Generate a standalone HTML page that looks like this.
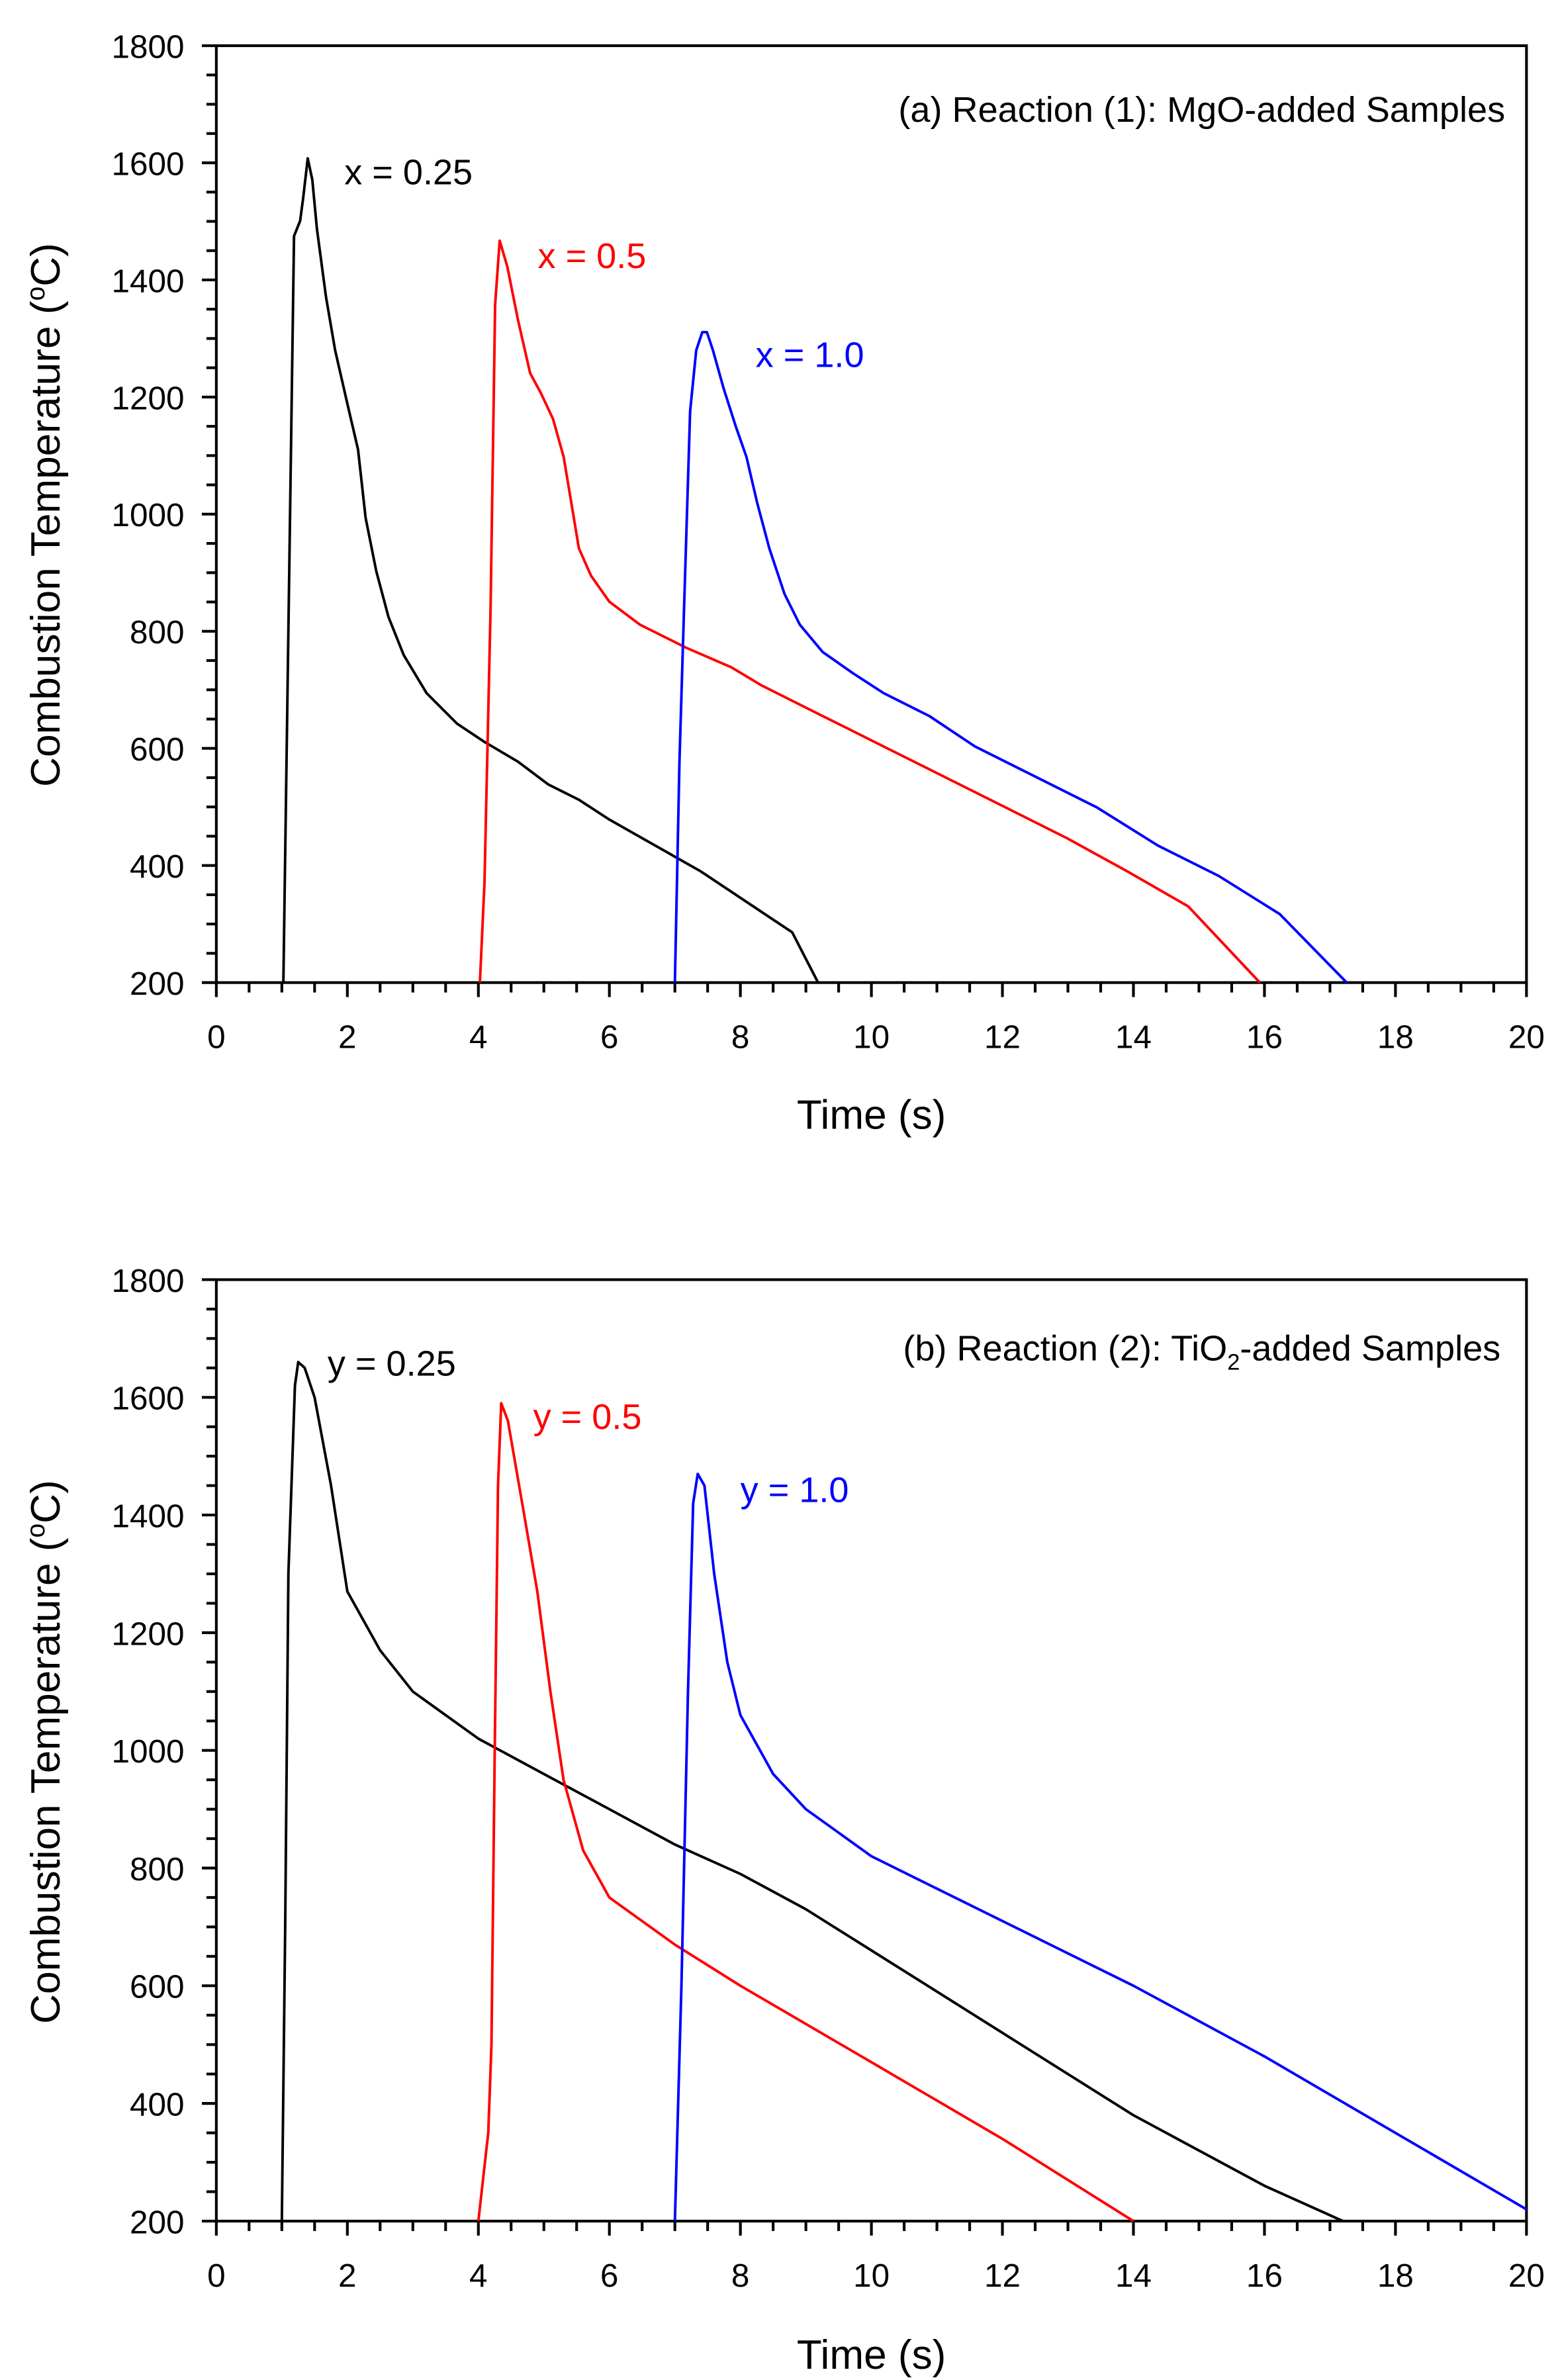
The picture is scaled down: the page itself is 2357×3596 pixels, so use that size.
<!DOCTYPE html>
<html><head><meta charset="utf-8"><style>
html,body{margin:0;padding:0;background:#fff;}
svg{display:block;}
text{font-family:"Liberation Sans",Arial,sans-serif;}
</style></head><body>
<svg id="s" width="2357" height="3596" viewBox="0 0 1024 1562.3" xmlns="http://www.w3.org/2000/svg">
<rect width="1024" height="1562.3" fill="#fff"/>
<g id="axes" stroke="#000" stroke-width="1.8" fill="none"></g>
<g id="lbl" font-size="21.5" fill="#000"></g>
<g fill="none" stroke-width="1.7" stroke-linejoin="round">
<polyline stroke="#000" points="186,645 193,155 197,145 199,130 202,104 205,118 208,150 214,195 220,230 228,265 235,295 240,340 247,375 255,405 265,430 280,455 300,475 318,487 340,500 360,515 380,525 400,538 430,555 460,572 490,592 520,612 537,645"/>
<polyline stroke="#f00" points="315,645 318,580 322,400 325,200 328,158 333,175 340,210 348,245 355,258 363,275 370,300 375,330 380,360 388,378 400,395 420,410 450,425 480,438 500,450 540,470 580,490 620,510 660,530 700,550 740,572 780,595 827,645"/>
<polyline stroke="#00f" points="443,645 446,500 449,400 453,270 457,230 461,218 464,218 468,230 475,255 483,280 490,300 497,330 505,360 515,390 525,410 540,428 560,442 580,455 610,470 640,490 680,510 720,530 760,555 800,575 840,600 884,645"/>
<polyline stroke="#000" points="185,1458 187.2,1264.9 189.3,1033.1 193.6,909.5 195.75,894.1 200,897.9 206.5,917.3 217.3,975.2 228,1044.7 249.5,1083.3 271,1110.4 314,1141.3 357,1164.5 400,1187.6 443,1210.8 486,1230.1 529,1253.3 572,1280.3 658,1334.4 744,1388.5 830,1434.8 881.6,1458"/>
<polyline stroke="#f00" points="314,1458 320.5,1400 322.6,1342 324.75,1149 326.9,975.2 329,921.1 333.4,932.7 344.1,994.5 352.7,1044.7 361.3,1110.4 369.9,1168.3 382.8,1214.7 400,1245.6 443,1276.5 486,1303.5 572,1353.7 658,1404 744,1458"/>
<polyline stroke="#00f" points="443,1458 447.3,1303.5 451.6,1110.4 455,986.8 458,967.5 462.4,975.2 468.8,1033.1 477.4,1091 486,1125.8 507.5,1164.5 529,1187.6 572,1218.5 658,1261 744,1303.5 830,1349.9 916,1400.1 1002,1450.3"/>
</g>
<g font-size="23.5">
<text x="988" y="80" text-anchor="end">(a) Reaction (1): MgO-added Samples</text>
<text x="226" y="121">x = 0.25</text>
<text x="353" y="176" fill="#f00">x = 0.5</text>
<text x="496" y="241" fill="#00f">x = 1.0</text>
<text x="985" y="893" text-anchor="end">(b) Reaction (2): TiO<tspan font-size="15" dy="6">2</tspan><tspan dy="-6">-added Samples</tspan></text>
<text x="215" y="903">y = 0.25</text>
<text x="350" y="938" fill="#f00">y = 0.5</text>
<text x="486" y="986" fill="#00f">y = 1.0</text>
</g>
<g font-size="27">
<text x="572" y="741" text-anchor="middle">Time (s)</text>
<text x="572" y="1555" text-anchor="middle">Time (s)</text>
<text transform="translate(39,338) rotate(-90)" text-anchor="middle">Combustion Temperature (<tspan font-size="17" dy="-10">o</tspan><tspan dy="10">C)</tspan></text>
<text transform="translate(39,1150) rotate(-90)" text-anchor="middle">Combustion Temperature (<tspan font-size="17" dy="-10">o</tspan><tspan dy="10">C)</tspan></text>
</g>
</svg>
<script>
(function(){
var ns="http://www.w3.org/2000/svg";
var ax=document.getElementById("axes"),lb=document.getElementById("lbl");
function ln(x1,y1,x2,y2){var l=document.createElementNS(ns,"line");l.setAttribute("x1",x1);l.setAttribute("y1",y1);l.setAttribute("x2",x2);l.setAttribute("y2",y2);ax.appendChild(l);}
function tx(x,y,s,a){var t=document.createElementNS(ns,"text");t.setAttribute("x",x);t.setAttribute("y",y);t.setAttribute("text-anchor",a);t.textContent=s;lb.appendChild(t);}
var L=142,R=1002;
[[30,645],[840,1458]].forEach(function(p){
 var T=p[0],B=p[1];
 var r=document.createElementNS(ns,"rect");r.setAttribute("x",L);r.setAttribute("y",T);r.setAttribute("width",R-L);r.setAttribute("height",B-T);ax.appendChild(r);
 for(var i=0;i<=40;i++){var x=L+(R-L)*i/40;var maj=(i%4==0);ln(x,B,x,B+(maj?9.5:6.5));if(maj)tx(x,B+43,String(i/2),"middle");}
 for(var j=0;j<=32;j++){var y=B-(B-T)*j/32;var mj=(j%4==0);ln(L,y,L-(mj?9.5:6.5),y);if(mj)tx(121,y+8,String(200+j*50),"end");}
});
})();
</script>
</body></html>
